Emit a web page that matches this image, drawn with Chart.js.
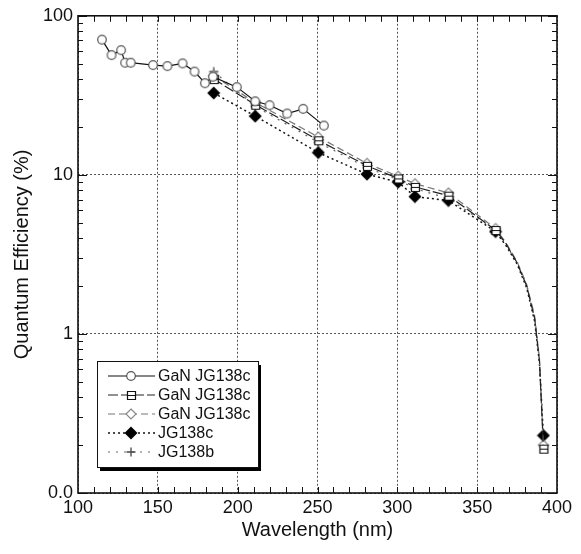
<!DOCTYPE html>
<html>
<head>
<meta charset="utf-8">
<script src="https://cdn.jsdelivr.net/npm/chart.js@4.4.1/dist/chart.umd.min.js"></script>
<style>
html, body { margin: 0; padding: 0; background: #fff; }
#wrap { width: 581px; height: 554px; }
</style>
</head>
<body>
<div id="wrap"><canvas id="chart" width="581" height="554"></canvas></div>
<script>
// wavelength (nm) / quantum efficiency (%)
var nmGaN = [115, 121, 127, 129.5, 133, 147, 156, 165.5, 173, 179.5, 184.5, 199.5, 211, 220, 231, 241, 254];
var qeGaN = [70.8, 56.6, 60.8, 50.7, 50.7, 49, 48.3, 50.2, 44.6, 37.7, 41.4, 35.6, 29, 27.4, 24.3, 26, 20.4];

var nmJG = [185, 211, 250.5, 281, 300.5, 311, 332, 361.5, 368, 375, 381, 386, 389, 391.5];
var qeSquare  = [40, 27.6, 16.5, 11.4, 9.5, 8.4, 7.4, 4.5, 3.7, 2.8, 2.0, 1.25, 0.68, 0.19];
var qeDiamond = [42, 28.5, 17.3, 11.8, 9.8, 8.8, 7.7, 4.6, 3.75, 2.85, 2.05, 1.3, 0.7, 0.2];
var qeFilled  = [32.7, 23.4, 13.8, 10.1, 9.0, 7.3, 6.9, 4.4, 3.6, 2.75, 1.95, 1.2, 0.66, 0.23];
var qePlus    = [44.6, 27, 16, 11.1, 9.3, 8.2, 7.1, 4.5, 3.65, 2.8, 2.0, 1.25, 0.68, 0.2];
// wavelengths that carry a marker (the rest is just the curve)
var markedNm = [185, 211, 250.5, 281, 300.5, 311, 332, 361.5, 391.5];

var seriesNames = ['GaN JG138c', 'GaN JG138c', 'GaN JG138c', 'JG138c', 'JG138b'];
var yTickValues = [0.1, 1, 10, 100];
var yTickLabels = ['0.0', '1', '10', '100'];

var FONT = 'Liberation Sans, Arial, Helvetica, sans-serif';

function marker(kind) {
	var c = document.createElement('canvas');
	c.width = 14; c.height = 14;
	var g = c.getContext('2d');
	var m = 7;
	g.lineWidth = 1.2;
	g.beginPath();
	if (kind == 'circle') {
		g.arc(m, m, 4.3, 0, Math.PI * 2);
		g.fillStyle = '#fff'; g.fill();
		g.strokeStyle = '#555'; g.stroke();
	} else if (kind == 'square') {
		g.rect(3.5, 3.5, 8, 8);
		g.fillStyle = '#fff'; g.fill();
		g.moveTo(3.5, 7.5); g.lineTo(11.5, 7.5);
		g.strokeStyle = '#111'; g.stroke();
	} else if (kind == 'diamond') {
		g.moveTo(m, 2); g.lineTo(12, m); g.lineTo(m, 12); g.lineTo(2, m); g.closePath();
		g.fillStyle = '#fff'; g.fill();
		g.strokeStyle = '#888'; g.stroke();
	} else if (kind == 'filled') {
		g.moveTo(m, 0.5); g.lineTo(13.5, m); g.lineTo(m, 13.5); g.lineTo(0.5, m); g.closePath();
		g.fillStyle = '#000'; g.fill();
	} else if (kind == 'plus') {
		g.moveTo(m, 2.5); g.lineTo(m, 11.5);
		g.moveTo(2.5, m); g.lineTo(11.5, m);
		g.lineWidth = 1.3;
		g.strokeStyle = '#444'; g.stroke();
	}
	return c;
}

function points(nm, qe) {
	return nm.map(function(v, i) { return {x: v, y: qe[i]}; });
}

function markRadius(c) {
	return markedNm.indexOf(c.raw.x) >= 0 ? 5 : 0;
}

var datasets = [
	{
		label: seriesNames[0],
		data: points(nmGaN, qeGaN),
		borderColor: '#111', borderWidth: 1.2, borderDash: [],
		pointStyle: marker('circle'), pointRadius: 5
	},
	{
		label: seriesNames[1],
		data: points(nmJG, qeSquare),
		borderColor: '#222', borderWidth: 1.2, borderDash: [10, 3],
		pointStyle: marker('square'), pointRadius: markRadius
	},
	{
		label: seriesNames[2],
		data: points(nmJG, qeDiamond),
		borderColor: '#777', borderWidth: 1.2, borderDash: [7, 4],
		pointStyle: marker('diamond'), pointRadius: markRadius
	},
	{
		label: seriesNames[3],
		data: points(nmJG, qeFilled),
		borderColor: '#111', borderWidth: 1.5, borderDash: [2, 3],
		pointStyle: marker('filled'), pointRadius: markRadius
	},
	{
		label: seriesNames[4],
		data: points(nmJG, qePlus),
		borderColor: '#666', borderWidth: 1.2, borderDash: [2, 6],
		pointStyle: marker('plus'), pointRadius: markRadius
	}
];
datasets.forEach(function(d) { d.fill = false; d.tension = 0; d.backgroundColor = '#fff'; });

// frame, inward ticks and the boxed legend
var framePlugin = {
	id: 'frame',
	afterDatasetsDraw: function(chart) {
		var ctx = chart.ctx, a = chart.chartArea;
		var xs = chart.scales.x, ys = chart.scales.y;
		ctx.save();
		ctx.setLineDash([]);
		ctx.strokeStyle = '#111';
		ctx.lineWidth = 1;
		ctx.beginPath();
		for (var v = 110; v < 400; v += 10) {
			var px = Math.round(xs.getPixelForValue(v)) + 0.5;
			ctx.moveTo(px, a.bottom); ctx.lineTo(px, a.bottom - 6);
			ctx.moveTo(px, a.top); ctx.lineTo(px, a.top + 6);
		}
		[0.1, 1, 10].forEach(function(d) {
			for (var m = 1; m <= 10; m++) {
				var py = Math.round(ys.getPixelForValue(d * m)) + 0.5;
				var len = (m == 1 || m == 10) ? 9 : 5;
				ctx.moveTo(a.left, py); ctx.lineTo(a.left + len, py);
				ctx.moveTo(a.right, py); ctx.lineTo(a.right - len, py);
			}
		});
		ctx.stroke();
		ctx.lineWidth = 1.6;
		ctx.strokeRect(a.left, a.top, a.right - a.left, a.bottom - a.top);

		// legend box with drop shadow
		var bx = 97, by = 361, bw = 161, bh = 106;
		ctx.fillStyle = '#000';
		ctx.fillRect(bx + 3, by + 4, bw, bh);
		ctx.fillStyle = '#fff';
		ctx.fillRect(bx, by, bw, bh);
		ctx.lineWidth = 1;
		ctx.strokeRect(bx + 0.5, by + 0.5, bw, bh);

		ctx.font = '16px ' + FONT;
		ctx.textBaseline = 'middle';
		ctx.textAlign = 'left';
		chart.data.datasets.forEach(function(ds, i) {
			var ry = by + 15 + i * 19;
			ctx.beginPath();
			ctx.setLineDash(ds.borderDash);
			ctx.strokeStyle = ds.borderColor;
			ctx.lineWidth = ds.borderWidth;
			ctx.moveTo(108, ry); ctx.lineTo(155, ry);
			ctx.stroke();
			ctx.setLineDash([]);
			ctx.drawImage(ds.pointStyle, 131 - 7, ry - 7);
			ctx.fillStyle = '#111';
			ctx.fillText(ds.label, 158, ry + 1);
		});
		ctx.restore();
	}
};

var chart = new Chart(document.getElementById('chart'), {
	type: 'line',
	data: { datasets: datasets },
	options: {
		responsive: false,
		animation: false,
		events: [],
		layout: { padding: { top: 12, right: 24, left: 0, bottom: 0 } },
		plugins: { legend: { display: false }, tooltip: { enabled: false } },
		scales: {
			x: {
				type: 'linear', min: 100, max: 400,
				ticks: { stepSize: 50, color: '#111', padding: 4, maxRotation: 0, font: { family: FONT, size: 18 } },
				grid: { color: '#555', lineWidth: 1, drawTicks: false },
				border: { display: false, dash: [2, 2] },
				title: { display: true, text: 'Wavelength (nm)', color: '#111', font: { family: FONT, size: 20 }, padding: { top: 0, bottom: 12 } },
				afterFit: function(s) { s.height = 61; }
			},
			y: {
				type: 'logarithmic', min: 0.1, max: 100,
				afterBuildTicks: function(s) { s.ticks = yTickValues.map(function(v) { return {value: v}; }); },
				ticks: {
					color: '#111', padding: 5, font: { family: FONT, size: 18 },
					callback: function(v) { return yTickLabels[yTickValues.indexOf(v)]; }
				},
				grid: { color: '#555', lineWidth: 1, drawTicks: false },
				border: { display: false, dash: [2, 2] },
				title: { display: true, text: 'Quantum Efficiency (%)', color: '#111', font: { family: FONT, size: 20 }, padding: { top: 10, bottom: 0 } },
				afterFit: function(s) { s.width = 78; }
			}
		}
	},
	plugins: [framePlugin]
});
</script>
</body>
</html>
